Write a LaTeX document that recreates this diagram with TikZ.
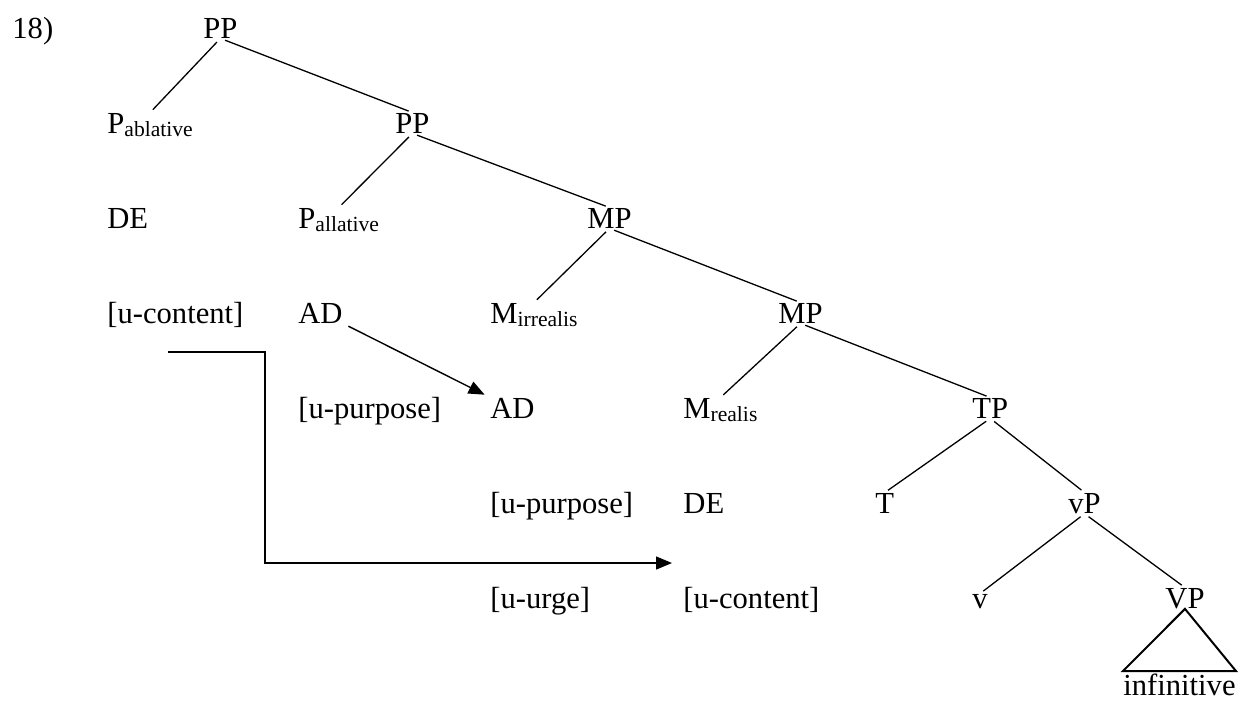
\documentclass[tikz,border=0pt]{standalone}
\usepackage{fontspec}
\setmainfont{Liberation Serif}
\usetikzlibrary{arrows.meta}

\newcommand{\lsub}[1]{\raisebox{-1.8pt}{\fontsize{10.8}{12}\selectfont #1}}

\begin{document}
\begin{tikzpicture}[x=0.5pt,y=-0.5pt,
  lbl/.style={anchor=base west,inner sep=0pt,font=\fontsize{15.3}{18}\selectfont},
  branch/.style={line width=0.65pt,shorten <=2.5pt,shorten >=2pt},
  arr/.style={line width=0.7pt,-{Triangle[length=8pt,width=6.5pt]}}]
\useasboundingbox (0,0) rectangle (1242,702);
\path (12,38) node[lbl](ex) {18)}
(203,38) node[lbl](pp0) {PP}
(107,133) node[lbl](pabl) {P\lsub{ablative}}
(395,133) node[lbl](pp1) {PP}
(107,228) node[lbl](de1) {DE}
(298,228) node[lbl](pall) {P\lsub{allative}}
(587,228) node[lbl](mp1) {MP}
(107,323) node[lbl](ucon1) {[u-content]}
(298,323) node[lbl](ad1) {AD}
(490,323) node[lbl](mirr) {M\lsub{irrealis}}
(778,323) node[lbl](mp2) {MP}
(298,418) node[lbl](upur1) {[u-purpose]}
(490,418) node[lbl](ad2) {AD}
(683,418) node[lbl](mreal) {M\lsub{realis}}
(972,418) node[lbl](tp) {TP}
(490,513) node[lbl](upur2) {[u-purpose]}
(683,513) node[lbl](de2) {DE}
(875,513) node[lbl](t) {T}
(1068,513) node[lbl](vp) {vP}
(490,608) node[lbl](uurge) {[u-urge]}
(683,608) node[lbl](ucon2) {[u-content]}
(972,608) node[lbl](v) {v}
(1165,608) node[lbl](bigvp) {VP}
(1123,695) node[lbl](inf) {infinitive}
;
\coordinate (agr_start) at (168,352);
\coordinate (agr_end) at (672,563);

\draw[branch] (pp0.south) -- (pabl.north);
\draw[branch] (pp0.south) -- (pp1.north);
\draw[branch] (pp1.south) -- (pall.north);
\draw[branch] (pp1.south) -- (mp1.north);
\draw[branch] (mp1.south) -- (mirr.north);
\draw[branch] (mp1.south) -- (mp2.north);
\draw[branch] (mp2.south) -- (mreal.north);
\draw[branch] (mp2.south) -- (tp.north);
\draw[branch] (tp.south) -- (t.north);
\draw[branch] (tp.south) -- (vp.north);
\draw[branch] (vp.south) -- (v.north);
\draw[branch] (vp.south) -- (bigvp.north);
\draw[line width=1pt] (bigvp.south) -- ([yshift=1pt]inf.north west)
  -- ([yshift=1pt]inf.north east) -- cycle;

\draw[arr,shorten <=3pt,shorten >=3pt] (ad1.south east) -- (ad2.north west);
\draw[arr] (agr_start) -- ++(97,0) |- (agr_end);

\end{tikzpicture}
\end{document}
